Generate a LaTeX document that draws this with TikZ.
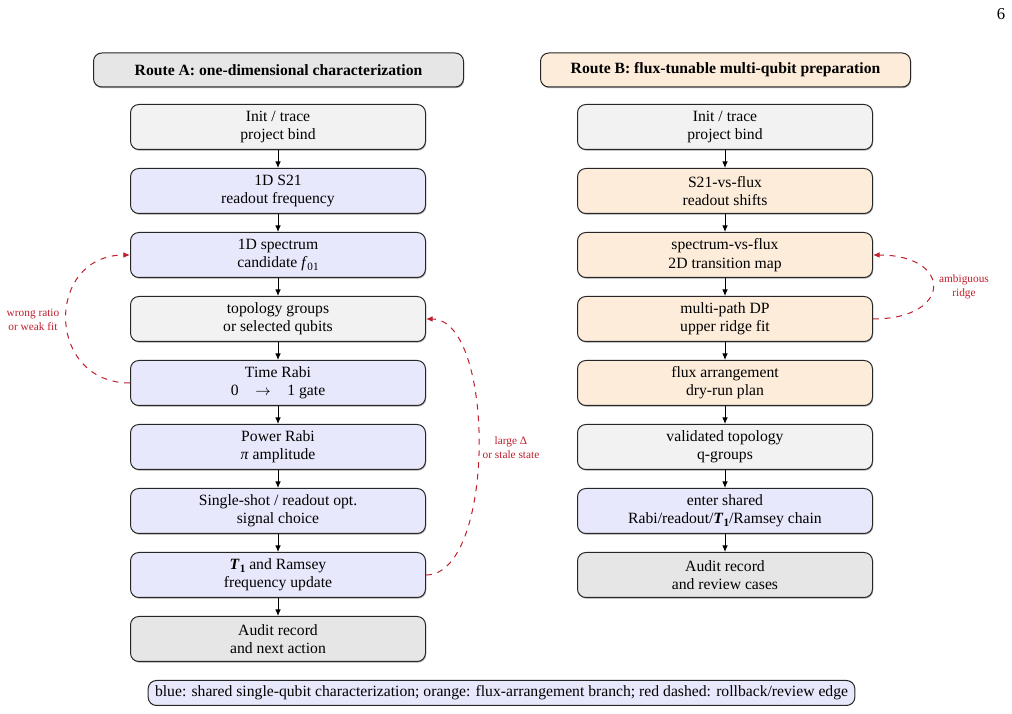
\documentclass[tikz,border=0pt]{standalone}
\usepackage{fontspec}
\setmainfont{Liberation Serif}
\usetikzlibrary{arrows.meta,shadows}
\definecolor{bluefill}{RGB}{232,232,252}
\definecolor{orangefill}{RGB}{253,236,218}
\definecolor{lightgrayfill}{RGB}{242,242,242}
\definecolor{midgrayfill}{RGB}{230,230,230}
\definecolor{rbred}{RGB}{190,30,45}
\newcommand\mysub[1]{\raisebox{-0.35ex}{\fontsize{6.7}{7}\selectfont #1}}
\begin{document}
\begin{tikzpicture}[x=0.6pt,y=-0.6pt,
  font=\fontsize{9.4}{11}\selectfont,
  box/.style={draw=black!85, line width=0.6pt, rounded corners=5pt,
    minimum width=177pt, minimum height=27pt, align=center, inner sep=2pt,
    drop shadow={shadow xshift=0.4pt, shadow yshift=-0.7pt, opacity=0.35, fill=black}},
  hdr/.style={box, minimum width=222pt, minimum height=20.4pt,
    font=\fontsize{9.4}{11}\selectfont\bfseries},
  gbox/.style={box, fill=lightgrayfill},
  dbox/.style={box, fill=midgrayfill},
  bbox/.style={box, fill=bluefill},
  obox/.style={box, fill=orangefill},
  flow/.style={draw=black, line width=0.6pt, -{Latex[length=4pt,width=3.4pt]}},
  rb/.style={draw=rbred, line width=0.6pt, dash pattern=on 3.5pt off 3.5pt,
    -{Latex[length=4pt,width=3.4pt]}},
  rlabel/.style={font=\fontsize{6.8}{8.5}\selectfont, text=rbred, align=center, inner sep=1pt}
]
\useasboundingbox (0,0) rectangle (1012,714);

\node (pg) at (1001,14) {\fontsize{10}{12}\selectfont 6};

% headers
\node[hdr, fill=midgrayfill] (ha) at (278.5,70) {Route A: one-dimensional characterization};
\node[hdr, fill=orangefill] (hb) at (725.5,70) {Route B: flux-tunable multi-qubit preparation};

% Route A
\node[gbox] (a1) at (278,127) {Init / trace\\project bind};
\node[bbox] (a2) at (278,191) {1D S21\\readout frequency};
\node[bbox] (a3) at (278,255) {1D spectrum\\candidate \textit{f}\mysub{01}};
\node[gbox] (a4) at (278,319) {topology groups\\or selected qubits};
\node[bbox] (a5) at (278,383) {Time Rabi\\0\hspace{10pt}$\rightarrow$\hspace{10pt}1 gate};
\node[bbox] (a6) at (278,447) {Power Rabi\\\textit{π} amplitude};
\node[bbox] (a7) at (278,511) {Single-shot / readout opt.\\signal choice};
\node[bbox] (a8) at (278,575) {\textbf{\textit{T}\mysub{1}} and Ramsey\\frequency update};
\node[dbox] (a9) at (278,639) {Audit record\\and next action};

% Route B
\node[gbox] (b1) at (725,127) {Init / trace\\project bind};
\node[obox] (b2) at (725,191) {S21-vs-flux\\readout shifts};
\node[obox] (b3) at (725,255) {spectrum-vs-flux\\2D transition map};
\node[obox] (b4) at (725,319) {multi-path DP\\upper ridge fit};
\node[obox] (b5) at (725,383) {flux arrangement\\dry-run plan};
\node[gbox] (b6) at (725,447) {validated topology\\q-groups};
\node[bbox] (b7) at (725,511) {enter shared\\Rabi/readout/\textbf{\textit{T}\mysub{1}}/Ramsey chain};
\node[dbox] (b8) at (725,575) {Audit record\\and review cases};

% flow arrows
\foreach \i/\j in {a1/a2,a2/a3,a3/a4,a4/a5,a5/a6,a6/a7,a7/a8,a8/a9,
                   b1/b2,b2/b3,b3/b4,b4/b5,b5/b6,b6/b7,b7/b8}
  \draw[flow] (\i) -- (\j);

% rollback / review edges
\draw[rb] (a5.west) to[out=180,in=180,looseness=1.7] (a3.west);
\node[rlabel] (la) at (33,320) {wrong ratio\\or weak fit};

\draw[rb] (a8.east) to[out=0,in=0,looseness=0.7] (a4.east);
\node[rlabel] (lb) at (511,448) {large Δ\\or stale state};

\draw[rb] (b4.east) to[out=0,in=0,looseness=3.2] (b3.east);
\node[rlabel] (lc) at (964,287) {ambiguous\\ridge};

% legend
\node[draw=black!85, line width=0.6pt, fill=bluefill, rounded corners=5pt,
      minimum width=424pt, minimum height=15pt, inner sep=2pt] (leg) at (501.5,693)
  {blue: shared single-qubit characterization; orange: flux-arrangement branch; red dashed: rollback/review edge};
\end{tikzpicture}
\end{document}
